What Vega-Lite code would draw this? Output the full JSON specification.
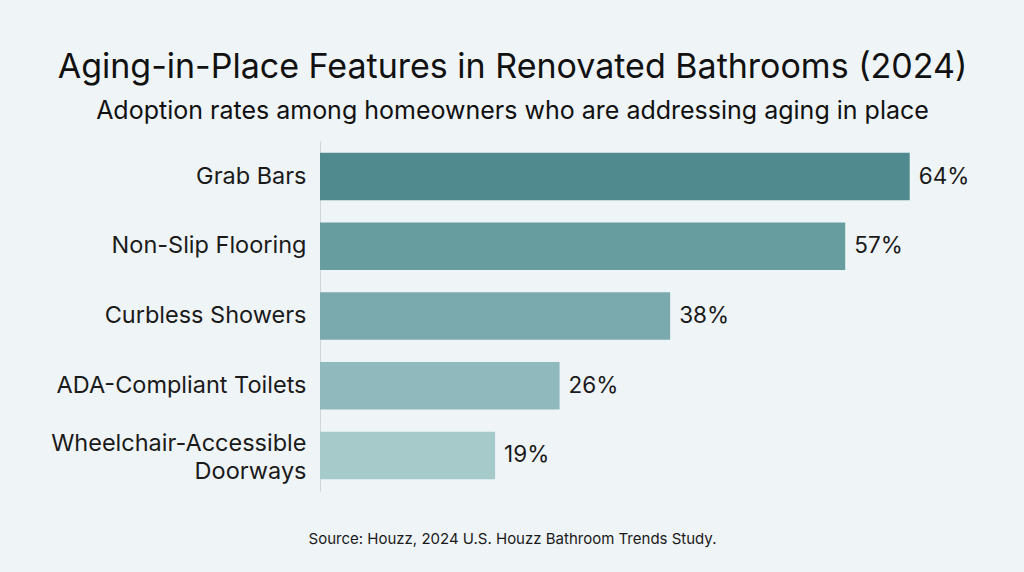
{
  "$schema": "https://vega.github.io/schema/vega-lite/v6.json",
  "autosize": {"type": "none"},
  "width": 645,
  "height": 350,
  "padding": {"left": 320, "top": 141, "right": 59, "bottom": 81},
  "background": "#eff4f7",
  "config": {
    "view": {"stroke": null},
    "font": "Inter"
  },
  "title": {
    "text": "Aging-in-Place Features in Renovated Bathrooms (2024)",
    "subtitle": "Adoption rates among homeowners who are addressing aging in place",
    "anchor": "middle",
    "frame": "group",
    "dx": -130,
    "font": "Inter",
    "fontSize": 34,
    "fontWeight": "normal",
    "color": "#111111",
    "subtitleFont": "Inter",
    "subtitleFontSize": 25,
    "subtitleColor": "#111111",
    "subtitlePadding": 14,
    "offset": 17
  },
  "data": {
    "values": [
      {"feature": "Grab Bars", "share": 0.64},
      {"feature": "Non-Slip Flooring", "share": 0.57},
      {"feature": "Curbless Showers", "share": 0.38},
      {"feature": "ADA-Compliant Toilets", "share": 0.26},
      {"feature": "Wheelchair-Accessible Doorways", "share": 0.19}
    ]
  },
  "encoding": {
    "y": {
      "field": "feature",
      "type": "nominal",
      "sort": null,
      "scale": {"paddingInner": 0.32, "paddingOuter": 0.17},
      "axis": {
        "title": null,
        "ticks": false,
        "domainColor": "#cfd6da",
        "domainWidth": 1,
        "labelFontSize": 23.5,
        "labelColor": "#1a1a1a",
        "labelPadding": 14,
        "labelLineHeight": 28,
        "labelLimit": 400,
        "labelOffset": {"condition": {"test": "datum.value == 'Wheelchair-Accessible Doorways'", "value": -11}, "value": 0},
        "labelExpr": "datum.value == 'Wheelchair-Accessible Doorways' ? ['Wheelchair-Accessible', 'Doorways'] : datum.value"
      }
    },
    "x": {
      "field": "share",
      "type": "quantitative",
      "scale": {"domain": [0, 0.7], "nice": false},
      "axis": {
        "labels": false,
        "ticks": false,
        "grid": false,
        "domain": false,
        "title": "Source: Houzz, 2024 U.S. Houzz Bathroom Trends Study.",
        "titleFont": "Inter",
        "titleFontSize": 15,
        "titleFontWeight": "normal",
        "titleColor": "#1a1a1a",
        "titleX": 192,
        "titleY": 52,
        "titleAlign": "center",
        "titleBaseline": "alphabetic"
      }
    }
  },
  "layer": [
    {
      "mark": {"type": "bar"},
      "encoding": {
        "color": {
          "field": "feature",
          "type": "nominal",
          "legend": null,
          "scale": {
            "domain": ["Grab Bars", "Non-Slip Flooring", "Curbless Showers", "ADA-Compliant Toilets", "Wheelchair-Accessible Doorways"],
            "range": ["#508a8f", "#679d9f", "#7aaaad", "#8fb9bc", "#a6c9ca"]
          }
        }
      }
    },
    {
      "mark": {"type": "text", "align": "left", "baseline": "middle", "dx": 9, "fontSize": 22.5, "color": "#1a1a1a", "font": "Inter"},
      "encoding": {
        "text": {"field": "share", "type": "quantitative", "format": ".0%"}
      }
    }
  ]
}
